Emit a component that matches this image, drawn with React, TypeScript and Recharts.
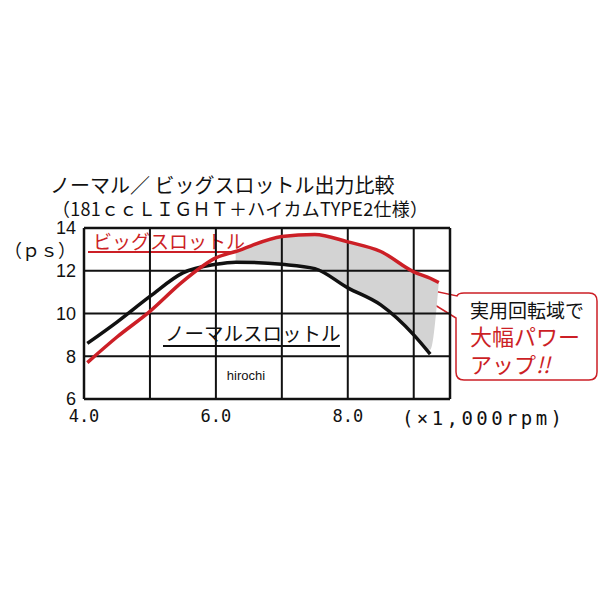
import React from "react";
import {
  Area,
  ComposedChart,
  Customized,
  Line,
  ReferenceLine,
  XAxis,
  YAxis,
} from "recharts";

// engine speed (x1,000 rpm) and output (ps)
const rpm = [4.05, 4.5, 5.0, 5.5, 6.0, 6.3, 7.0, 7.5, 8.0, 8.5, 9.0, 9.25, 9.38];
const normalPs = [8.6, 9.6, 10.8, 11.9, 12.3, 12.4, 12.3, 12.1, 11.2, 10.4, 9.0, 8.1, null];
const bigPs = [7.7, 8.9, 10.1, 11.5, 12.6, 12.9, 13.6, 13.7, 13.35, 12.9, 11.95, 11.65, 11.45];
// lower edge of the grey "gain" band
const gainLow = [null, null, null, null, null, 12.4, 12.3, 12.1, 11.2, 10.4, 9.0, 8.3, 11.45];

const xTicks = [4, 5, 6, 7, 8, 9];
const yTicks = [6, 8, 10, 12, 14];
const xMax = 9.55;

const RED = "#cc1f26";
const INK = "#111";
const JP = "'Noto Sans CJK JP', sans-serif";

const data = rpm.map((x, i) => ({
  x,
  normal: normalPs[i],
  big: bigPs[i],
  gain: gainLow[i] == null ? null : [gainLow[i], bigPs[i]],
}));

function Notes() {
  return (
    <g fontFamily={JP}>
      <text x={50} y={193} fontSize={20} fill={INK}>
        ノーマル／ ビッグスロットル出力比較
      </text>
      <text x={52} y={216} fontSize={18} fill={INK} textLength={376} lengthAdjust="spacing">
        （181ｃｃＬＩＧＨＴ＋ハイカムTYPE2仕様）
      </text>
      <text x={4} y={257} fontSize={18} fill={INK}>
        （ｐｓ）
      </text>

      <rect x={85} y={229} width={168} height={26} fill="#fff" />
      <text x={93} y={249} fontSize={19} fill={RED}>
        ビッグスロットル
      </text>
      <line x1={88} x2={250} y1={252} y2={252} stroke={RED} strokeWidth={2} />

      <rect x={160} y={316} width={182} height={32} fill="#fff" />
      <text x={165} y={341} fontSize={19.5} fill={INK}>
        ノーマルスロットル
      </text>
      <line x1={163} x2={340} y1={346} y2={346} stroke={INK} strokeWidth={2} />

      <text x={246} y={380} fontSize={13} fill={INK} textAnchor="middle" fontFamily="'Liberation Sans', sans-serif">
        hirochi
      </text>

      <text
        x={402}
        y={425}
        fontSize={19}
        fill={INK}
        fontFamily="'DejaVu Sans Mono', monospace"
        textLength={160}
        lengthAdjust="spacing"
      >
        (×1,000rpm)
      </text>

      <path
        d="M464,293 H589 Q597,293 597,301 V372 Q597,380 589,380 H464 Q456,380 456,372 V318 L401,284 L457,296 Q458,293 464,293 Z"
        fill="#fff"
        stroke={RED}
        strokeWidth={1.5}
      />
      <text x={470} y={318} fontSize={19} fill={INK}>
        実用回転域で
      </text>
      <text x={470} y={345} fontSize={22} fill={RED}>
        大幅パワー
      </text>
      <text x={470} y={373} fontSize={22} fill={RED}>
        アップ<tspan fontStyle="italic">!!</tspan>
      </text>
    </g>
  );
}

export default function App() {
  return (
    <div style={{ position: "absolute", left: 0, top: 0 }}>
      <ComposedChart
        width={600}
        height={600}
        data={data}
        margin={{ top: 228, right: 150, bottom: 0, left: 0 }}
      >
        <XAxis
          type="number"
          dataKey="x"
          domain={[4, xMax]}
          ticks={xTicks}
          tickFormatter={(v) => (v % 2 === 0 ? v.toFixed(1) : "")}
          axisLine={false}
          tickLine={false}
          tickSize={0}
          tickMargin={11}
          height={201}
          tick={{ fill: INK, fontSize: 17, fontFamily: "'DejaVu Sans Mono', monospace" }}
        />
        <YAxis
          type="number"
          domain={[6, 14]}
          ticks={yTicks}
          axisLine={false}
          tickLine={false}
          tickSize={0}
          tickMargin={8}
          width={84}
          tick={{ fill: INK, fontSize: 18, fontFamily: "'Liberation Sans', sans-serif" }}
        />
        <Area
          dataKey="gain"
          type="monotone"
          stroke="none"
          fill="#d3d3d3"
          fillOpacity={1}
          connectNulls
          isAnimationActive={false}
        />
        {xTicks.slice(1).map((v) => (
          <ReferenceLine key={"x" + v} x={v} stroke={INK} strokeWidth={2} />
        ))}
        {yTicks.slice(1, -1).map((v) => (
          <ReferenceLine key={"y" + v} y={v} stroke={INK} strokeWidth={2} />
        ))}
        <ReferenceLine x={4} stroke={INK} strokeWidth={2.5} />
        <ReferenceLine x={xMax} stroke={INK} strokeWidth={2.5} />
        <ReferenceLine y={6} stroke={INK} strokeWidth={2.5} />
        <ReferenceLine y={14} stroke={INK} strokeWidth={2.5} />
        <Customized component={Notes} />
        <Line
          dataKey="normal"
          type="monotone"
          stroke={INK}
          strokeWidth={3.5}
          dot={false}
          connectNulls
          isAnimationActive={false}
        />
        <Line
          dataKey="big"
          type="monotone"
          stroke={RED}
          strokeWidth={3.5}
          dot={false}
          connectNulls
          isAnimationActive={false}
        />
      </ComposedChart>
    </div>
  );
}
